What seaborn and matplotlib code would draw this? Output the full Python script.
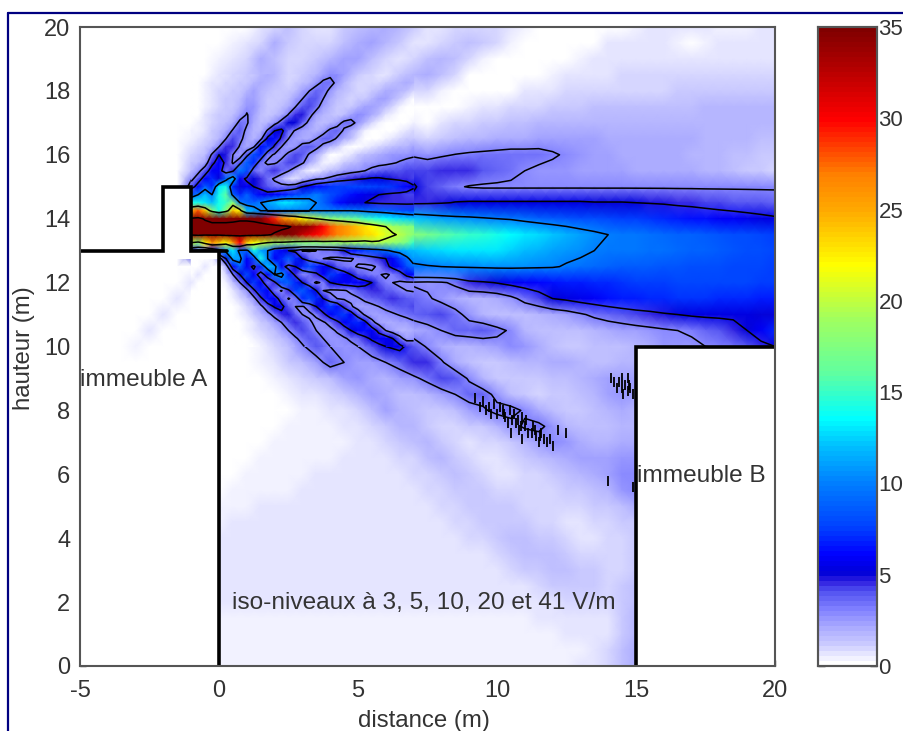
import numpy as np
import matplotlib
matplotlib.use("Agg")
import matplotlib.pyplot as plt
from matplotlib.colors import LinearSegmentedColormap
from matplotlib.lines import Line2D
from matplotlib.patches import Polygon
from matplotlib.transforms import Affine2D
import seaborn as sns

sns.set_style("white")
plt.rcParams['font.family'] = ['Liberation Sans', 'DejaVu Sans']

# champ, V/m, pas de 0.5 m
# colonnes: d = -1 -0.5 | 0..4.5 | 5..9.5 | 10..14.5 | 15..19.5 | 20
h20_0 = [0,0, 0,0,0,.7,.9,1.5,1,.8,.8,1.2, 1.5,1.8,2,1.7,1.2,.8,.8,.9,1,1, 1,.8,.3,0,0,0,0,0,0,0, .4,.7,.7,.7,.7,.7,.5,.3,.5,.7, .7]
h19_5 = [0,0, 0,.3,.8,1,2,1.2,.9,.9,1,1.6, 2,2.2,1.7,1.1,.8,.8,1,1.3,1.5,1.2, .9,.3,0,0,0,0,0,.2,.6,.8, .8,.8,.6,.3,.2,.3,.6,.8,.8,.8, .8]
h19_0 = [0,0, .5,.8,1,2,1.5,1,.9,1.2,1.8,2.4, 2.2,1.5,.9,.8,.9,1.4,1.9,1.5,1,.5, 0,0,0,0,0,.1,.5,.8,.8,.8, .8,.8,.8,.8,.7,.7,.8,.8,.8,.8, .8]
h18_5 = [0,.3, .7,1,1.8,2,1.2,1,1.4,2.4,3.2,2.2, 1.4,.9,.8,1.2,1.8,2,1.5,.9,.2,0, 0,0,0,.1,.4,.8,.8,.8,.8,.9, .9,.9,.9,.9,.9,.9,.9,.9,.9,1, 1]
h18_0 = [0,.4, .8,1.2,2.2,1.6,1.1,1.5,2.8,3.8,2.6,1.6, 1,1,1.5,2.1,1.9,1,.4,0,0,0, 0,.2,.6,.8,.8,.9,1,1,1,1, 1,1,1,1.1,1.1,1.1,1.1,1.1,1.2,1.2, 1.2]
h17_5 = [0,.5, 1,1.6,2.8,1.6,1.5,3,4.2,3,1.8,1.4, 1.7,2.3,2.2,1.4,.5,0,0,0,.3,.7, .8,.9,1,1,1.1,1.2,1.3,1.4,1.4,1.4, 1.5,1.5,1.6,1.6,1.6,1.7,1.7,1.7,1.7,1.7, 1.7]
h17_0 = [.2,.6, 1.2,2.5,3.4,1.7,2.8,4.8,3.4,2,1.9,3.4, 3,1.6,.5,0,0,.2,.7,.9,1,1.2, 1.3,1.5,1.6,1.7,1.7,1.7,1.8,1.8,1.8,1.8, 1.8,1.9,1.9,1.9,1.9,1.9,1.9,1.9,1.9,1.8, 1.8]
h16_5 = [.5,.9, 2,3.6,2.5,2.8,5.5,4,2.2,2.4,3.8,3.2, 1.7,.6,0,.3,.8,1,1.3,1.6,1.8,1.9, 2,2.1,2.1,2.2,2.2,2.2,2.2,2.2,2.1,2, 2,2,2,2,2,1.9,1.8,1.8,1.7,1.6, 1.5]
h16_0 = [.8,1.5, 3.8,3.2,2.5,6.5,4.5,2.5,3,4.2,3.2,1.8, .5,.3,.8,1.7,2.2,2.5,2.8,3.05,3.2,3.3, 3.4,3.5,3.5,3.5,3.2,2.8,2.6,2.4,2.2,2.1, 2.1,2.1,2.1,2,1.9,1.8,1.7,1.6,1.4,1.2, 1.1]
h15_5 = [2,3.5, 4.5,3.5,9,5.5,3.5,3.8,5,3.5,1.8,1.5, 2.8,3.2,3.6,3.9,4,4.2,4.4,4.4,4.4,4, 3.6,3.3,3,2.7,2.5,2.5,2.4,2.3,2.2,2.2, 2.1,2.1,2,2,2,1.9,1.7,1.5,1.3,1.1, 1]
h15_0 = [6,8, 6,12,7,5,5,5,5,5.5,6.5,7, 7.5,7.8,7.5,6.5,5.2,4.3,3.7,3.2,2.9,2.8, 2.8,2.8,2.8,2.8,2.8,2.8,2.8,2.8,2.8,2.8, 2.8,2.8,2.8,2.8,2.8,2.8,2.8,2.8,2.8,2.8, 2.8]
h14_5 = [12,14, 9,14,8,10,12,13,13,11,9,6, 5.4,4.8,4.6,4.5,4.5,4.6,4.8,5.1,5.2,5.2, 5.2,5.2,5.2,5.2,5.2,5.2,5.2,5.1,5.1,5.1, 5,4.9,4.8,4.6,4.5,4.3,4.2,4.1,4,3.9, 3.8]
h14_0 = [35,38, 30,24,35,32,28,25,22,20,18,17, 16,14.5,13.5,12.8,12.2,11.7,11.2,10.8,10.6,10.3, 10,9.8,9.4,9,8.7,8.4,8.2,8,7.8,7.6, 7.4,7.2,7,6.8,6.5,6.3,6,5.8,5.6,5.4, 5.2]
h13_5 = [45,45, 42,42,44,44,44,41.5,38,34,30,27, 25,22.5,20.7,19.3,18,17,16,15.5,15,14.5, 14,13.5,13,12.7,12.2,11.7,11,10.5,10,9.8, 9.6,9.4,9.2,9,8.8,8.6,8.4,8.2,8,7.8, 7.6]
h13_0 = [4,5, 8,18,12,11,9,6,4.5,4.5,5,6, 7,8,9.5,11,12,12.5,12.8,13,13,13, 13,12.5,12,11.5,11,10.7,10.4,10,9.8,9.7, 9.6,9.5,9.3,9.2,9,8.8,8.6,8.4,8.2,8, 7.8]
h12_5 = [0,0, 0,12,6,13,5,6,7.5,7,5.5,4.5, 3.5,4,5,7.5,9.5,9.8,10,10.2,10.3,10.4, 10.5,10.5,10.4,10.3,10.2,9.8,9.5,9.1,8.8,8.7, 8.6,8.5,8.4,8.3,8.2,8.1,8,7.9,7.8,7.7, 7.6]
h12_0 = [0,0, 0,5,9,6,10,9,6.5,3.5,6,6.5, 6,5.2,3.5,3,3,2.7,2.8,3.3,4.4,4.7, 5.1,5.5,5.8,6.1,6.4,6.6,6.8,7,7.1,7.3, 7.4,7.5,7.6,7.7,7.8,7.8,7.8,7.7,7.7,7.6, 7.5]
h11_5 = [0,0, 0,3,4,6.5,7,4.5,5,8,7,4, 3.5,4,4.5,4.6,4.5,3.2,2.6,2,1.8,1.8, 2,2.6,3.5,4.2,5,5.3,5.7,6,6.3,6.6, 6.8,7,7.1,7.2,7.2,7.2,7,7,6.9,6.8, 6.6]
h11_0 = [0,0, 0,.4,1,2,4,6,4.5,3.5,6,7.5, 6,3.5,2.5,3,3.6,4,4.2,3.5,2.5,1.8, 1.5,1.5,1.6,1.7,2,2.3,2.8,3.3,3.7,4, 4.3,4.5,4.8,5,5.2,5.3,5.3,5.3,5.2,5.1, 5]
h10_5 = [0,0, 0,.2,.7,1.2,2,3.5,5,4,3.2,3.8, 6,6.5,4,2.5,2,2.4,3,3.6,3.8,4, 3.4,2.8,1.8,1.5,1.4,1.5,1.6,1.8,2,2.2, 2.4,2.6,2.8,3,3.2,3.6,4,4.4,5,6, 7]
h10_0 = [0,0, 0,0,.4,.8,1.2,2,3.4,4.3,3.2,2.8, 3,3.6,5,5.4,4,2.8,2,1.7,1.8,2, 2.4,2.8,2.6,2,1.5,1.3,1.3,1.4,1.5,1.6, 1.8,2,2.5,2.5,2.7,3,3.2,3.5,4,4.5, 5]
h09_5 = [0,0, 0,0,0,.3,.7,1.1,1.5,2.4,3.6,3, 2.2,2.4,3,3.6,4.5,4.4,3.2,2,1.4,1.2, 1.3,1.5,1.7,1.9,2,2,1.8,1.6,1.5,1.7, 1.8] + [0]*10
h09_0 = [0,0, 0,0,0,0,.3,.7,.9,1.1,1.5,2.4, 2.6,2,1.8,2.2,2.7,3.4,4.2,4,2.8,1.8, 1.2,1.1,1.2,1.3,1.5,1.6,1.8,2,2.2,2.3, 2.2] + [0]*10
h08_5 = [0,0, 0,0,0,0,0,.3,.6,.8,.9,1.2, 1.9,2.4,2,1.5,1.4,1.8,2.4,3,3.8,3.6, 2.6,1.6,1.1,1,1.1,1.3,1.5,1.8,2.4,2.6, 2.4] + [0]*10
h08_0 = [0,0, 0,0,0,0,0,0,.3,.5,.7,.8, 1,1.5,2.2,1.9,1.4,1.1,1.3,1.6,2.2,2.8, 3.4,3.5,2.8,2,1.4,1.1,1.1,1.4,1.7,2, 1.8] + [0]*10
h07_5 = [0,0, 0,0,0,0,.2,.3,.35,.4,.4,.6, .7,.9,1.3,1.9,1.8,1.2,.9,.9,1.1,1.3, 1.8,2.5,3.2,3.3,2.6,1.8,1.4,1.4,1.6,1.8, 1.8] + [0]*10
h07_0 = [0,0, 0,0,0,.2,.3,.4,.4,.4,.5,.5, .6,.7,.9,1.1,1.6,1.8,1.2,.9,.8,.9, 1,1.3,1.8,2.4,2.9,2.6,2.1,1.9,1.9,2.1, 2] + [0]*10
h06_5 = [0,0, 0,0,.2,.3,.4,.45,.5,.5,.5,.6, .6,.7,.8,.9,1,1.4,1.7,1.2,.9,.8, .8,.9,1.1,1.4,1.8,2.1,2.2,2.3,2.4,2.7, 2.7] + [0]*10
h06_0 = [0,0, 0,.2,.35,.4,.45,.5,.5,.55,.6,.6, .6,.65,.7,.8,.9,1,1.2,1.4,1.2,.9, .8,.8,.9,1,1.2,1.5,1.8,2,2.4,2.8, 2.9] + [0]*10
h05_5 = [0,0, .1,.35,.4,.45,.5,.5,.55,.6,.6,.6, .6,.6,.65,.7,.8,.9,1,1.1,1.2,1.1, 1,.9,.9,.9,1,1.1,1.3,1.5,1.9,2.5, 2.9] + [0]*10
h05_0 = [0,0, .3,.5,.5,.55,.55,.6,.6,.6,.6,.65, .65,.65,.65,.7,.7,.8,.9,1,1.1,1.2, 1.2,1.1,1,.9,.9,.9,1,1.1,1.3,1.6, 2] + [0]*10
h04_5 = [0,0, .5,.55,.6,.6,.6,.6,.6,.65,.65,.7, .7,.7,.7,.7,.7,.75,.8,.9,1,1.1, 1.3,1.3,1.2,1,.9,.8,.8,.9,1,1.1, 1.3] + [0]*10
h04_0 = [0,0, .6,.6,.6,.6,.6,.65,.65,.65,.65,.7, .7,.7,.7,.7,.7,.7,.75,.8,.85,1, 1.2,1.4,1.4,1.3,1.1,.9,.8,.8,.9,1, 1.2] + [0]*10
h03_5 = [0,0, .65,.65,.65,.65,.65,.65,.65,.65,.65,.65, .65,.65,.65,.65,.65,.65,.65,.7,.7,.8, 1,1.2,1.4,1.5,1.4,1.2,1,.9,.9,1, 1.2] + [0]*10
h03_0 = [0,0, .6,.6,.6,.6,.6,.6,.6,.6,.6,.6, .6,.6,.6,.6,.6,.6,.6,.6,.6,.7, .8,1,1.1,1.3,1.4,1.4,1.2,1.1,.9,1, 1.3] + [0]*10
h02_5 = [0,0, .6,.6,.6,.6,.6,.6,.6,.6,.6,.6, .6,.6,.6,.6,.6,.6,.6,.6,.6,.6, .6,.7,.8,1,1.1,1.2,1.3,1.1,.9,1.1, 1.5] + [0]*10
h02_0 = [0,0, .55,.55,.55,.55,.55,.55,.55,.55,.55,.55, .55,.55,.55,.55,.55,.55,.55,.55,.55,.55, .55,.55,.6,.7,.8,.9,1,1,.9,1.2, 1.6] + [0]*10
h01_5 = [0,0, .5,.5,.5,.5,.5,.5,.5,.5,.5,.5, .5,.5,.5,.5,.5,.5,.5,.5,.5,.5, .5,.5,.5,.55,.6,.65,.7,.75,.8,1.2, 1.7] + [0]*10
h01_0 = [0,0, .5,.5,.5,.5,.5,.5,.5,.5,.5,.5, .5,.5,.5,.5,.5,.5,.5,.5,.5,.5, .45,.45,.45,.45,.5,.55,.6,.7,.8,1.3, 1.8] + [0]*10
h00_5 = [0,0, .45,.45,.45,.45,.45,.45,.45,.45,.45,.45, .45,.45,.45,.45,.45,.45,.45,.45,.35,.35, .35,.3,.3,.3,.3,.4,.5,.7,.9,1.4, 2] + [0]*10
h00_0 = [0,0, .4,.4,.4,.4,.4,.4,.4,.4,.4,.4, .4,.4,.4,.4,.4,.4,.4,.4,.35,.3, .3,.3,.3,.3,.3,.4,.6,.8,1,1.6, 2] + [0]*10

# zone des lobes, lue plus finement, pas de 0.25 m, de h = 18.5 a 10
# colonnes: d = -1.. | 0.. | 1.. | 2.. | 3.. | 4.. | 5.. | 6.. | 7
f18_50 = [0,0,.2,.5, .7,.8,.9,1, 1.1,1.3,1.7,2, 1.8,1.3,1,1, 1.2,1.5,1.9,2.4, 2.8,2.9,2.4,1.8, 1.3,1,.9,.8, .8,1,1.2,1.5, 1.8]
f18_25 = [0,0,.3,.6, .8,.9,1,1.1, 1.3,1.7,2.1,1.9, 1.4,1.1,1,1.1, 1.4,1.9,2.6,3.3, 3.4,2.7,1.9,1.3, 1,.9,.9,1, 1.3,1.6,1.9,2.1, 1.9]
f18_00 = [0,0,.4,.7, .9,1,1.1,1.3, 1.7,2.2,1.9,1.5, 1.2,1.1,1.2,1.6, 2.2,3,3.7,3.5, 2.7,1.9,1.4,1.1, 1,1,1.2,1.6, 2.1,2.1,1.8,1.4, 1]
f17_75 = [0,.1,.5,.8, 1,1.1,1.2,1.6, 2.4,2.3,1.7,1.3, 1.1,1.2,1.6,2.2, 3,3.9,3.9,3, 2.1,1.5,1.2,1, 1.1,1.3,1.7,2.2, 2.2,1.8,1.2,.6, .2]
f17_50 = [0,.2,.5,.8, 1,1.1,1.3,1.9, 2.7,2.5,1.7,1.2, 1.1,1.4,2.1,3, 4,4.3,3.4,2.4, 1.7,1.3,1.2,1.3, 1.7,2.2,2.4,2, 1.4,.9,.4,.1, 0]
f17_25 = [0,.2,.6,.9, 1.1,1.2,1.6,2.3, 3.1,2.4,1.5,1.3, 1.4,2,3.1,4.5, 4.7,3.4,2.4,1.7, 1.4,1.3,1.6,2.3, 3,2.7,2,1.4, .8,.3,.1,0, 0]
f17_00 = [.2,.4,.7,1, 1.2,1.5,2.1,3.4, 3.2,2,1.6,1.7, 2.5,3.6,5,5, 3.7,2.6,1.9,1.6, 1.7,2.4,3.4,3.5, 2.6,1.8,1,.4, .1,0,0,.2, .5]
f16_75 = [.3,.5,.8,1.1, 1.4,2,3.2,3.9, 2.6,1.8,1.9,3.2, 5,5.4,3.8,2.8, 2.2,2,1.9,2.4, 3.4,3.7,2.8,2, 1.2,.5,.1,0, 0,.2,.5,.8, .9]
f16_50 = [.5,.7,.9,1.3, 1.9,3,4.3,3.5, 2.2,1.8,2.6,5.5, 6.5,4.6,3,2.4, 2.1,2,3,3.8, 3.6,2.8,2,1.4, .7,.1,0,.2, .5,.8,1,1.2, 1.3]
f16_25 = [.7,.9,1.2,1.7, 3,4.5,4.4,2.8, 2.1,2.8,6.5,7.2, 4.6,3,2.3,2.6, 3.6,4,3.4,2.5, 1.8,1.1,.4,0, .1,.4,.7,1, 1.3,1.5,1.7,1.9, 2.2]
f16_00 = [.9,1.1,1.6,3.2, 5,4.8,3,2.3, 4,8,7,3.5, 2.8,2.6,3.3,4.2, 3.9,2.8,2,1, .2,.2,.5,.8, 1.2,1.5,1.7,2, 2.2,2.5,2.6,2.7, 2.8]
f15_75 = [1.1,1.4,2.2,4.5, 6,4.6,2.8,4, 9,7,3.5,2.7, 2.8,3.4,4.3,4.2, 3.2,2.1,1.1,.3, .3,.7,1.1,1.5, 1.9,2.2,2.4,2.6, 2.7,2.9,3.1,3.3, 3.5]
f15_50 = [1.6,2.5,4,6, 6,3.5,4.5,10, 8,3.6,3,4, 4.6,3.8,3.1,2, 1,.3,.5,1, 1.5,1.9,2.2,2.5, 2.7,3,3.4,3.7, 3.9,4,4.1,4.2, 4.3]
f15_25 = [2.5,4,6,7, 5,9,12,6, 4.5,5,4.5,3.5, 2.8,2,1,.6, 1.5,2.2,2.8,3, 3.4,3.9,4.2,4.5, 4.8,5,5.2,5.2, 5,4.8,4.6,4.4, 4.2]
f15_00 = [4,6,9,7, 13,14,7,5, 6,5,4.5,4, 3.5,3.5,3.6,4, 5,5.6,6.3,6.8, 7.2,7.5,7.6,7.8, 7.8,7.9,7.8,7.6, 7.5,7.2,6.8,6.2, 5.2]
f14_75 = [8,10,12,10, 14,16,9,7, 9,7,6,5.5, 6,6.5,7,7.5, 8,9,10,9, 8,7.5,7,6.5, 6,5.6,5.2,5, 4.7,4.5,4.4,4.3, 4.3]
f14_50 = [14,14,13,12, 14,15,18,10, 9,9,10,11, 12,13,13,12.5, 12,11,10,9, 7.5,6.5,6,5.4, 5.2,5,4.8,4.6, 4.5,4.5,4.4,4.4, 4.5]
f14_25 = [25,28,24,18, 14,18,24,22, 12,11,10,10, 10,10,10,10, 10,10,10,10, 10,10,10,10, 9.8,9.5,9.2,9, 8.8,8.5,8.2,7.8, 7.6]
f14_00 = [42,43,40,38, 38,38,38,39, 39,38,35,32, 29,27,25,24, 22,21,20,19, 18,17.5,17,16.5, 16,15,14.5,14, 13.5,13,12.8,12.5, 12.2]
f13_75 = [45,46,45,44, 44,44,45,46, 46,46,46,45, 44,43,42,39, 37,34,32,30, 28,27,26,25, 24,23,22,21, 20,19,18.5,18, 17.5]
f13_50 = [42,43,42,42, 42,43,43,43, 43,43,43,42, 40,38,36,34, 32,31,30,29, 28,27,26,25, 24.5,23.5,23,22, 21,20.3,19.7,19, 18]
f13_25 = [20,18,22,26, 24,22,26,30, 24,22,21,20, 19,19,18.5,18, 18,18,18,18.5, 18.5,18.5,19,19, 19,19,19.5,19.5, 19,18.5,18,17, 15]
f13_00 = [5,4,3,5, 8,11,13,9, 9,14,11,10, 7,6,5,4.5, 2.9,2.9,3,3.3, 3.5,4,5,6.5, 7,7.5,8,8.5, 9.5,10.5,11,11.5, 12]
f12_75 = [0,0,0,.5, 2,5,11,11, 6,8,14,10, 6,7,9,7, 5,3.8,3.2,3, 2.9,2.8,2.8,2.9, 3.2,3.5,4,4.5, 5,6,7.5,9.5, 11]
f12_50 = [0,0,.7,0, 0,2,6,9, 6,4.5,7,12, 11,6,4,5, 7,8,7,6, 5,4,3.5,3.2, 2.9,2.8,2.8,3.2, 4.5,5.5,6.5,8, 9.5]
f12_25 = [0,.7,0,0, 0,1,3,5, 8,6,4,6, 10,11,7,4.5, 3,3.5,4.5,6, 7.5,7,6,5, 4,3.6,3.2,3.1, 2.8,3.2,4,5.5, 6.5]
f12_00 = [.7,0,0,0, 0,.5,1.5,3, 5,7.5,6,3.5, 4.5,8,9,7, 5,3.6,2.8,3.2, 5,5.5,6,6.2, 6,5.5,5,4, 3.2,3,2.8,2.8, 2.8]
f11_75 = [0,0,0,0, 0,.2,.8,1.5, 2.5,4.5,7,6, 3.5,2.9,4.5,7.5, 8.5,7,5,3, 2.8,2.8,2.9,3.2, 4,4.3,4.5,4.4, 4,3.6,3.2,3, 2.9]
f11_50 = [0,0,0,0, 0,0,.3,1, 1.6,2.5,4.5,6.5, 6,4,2.9,3.5, 7,8,7,5, 3.5,3,2.8,2.7, 2.8,3.4,3.8,4.1, 4.3,4.4,4.3,4, 3.6]
f11_25 = [0,0,0,0, 0,0,.2,.5, 1,1.6,2.6,4, 5.2,5.5,4,3, 2.9,3.4,5,6.5, 7.5,6.5,4.5,3.2, 2.4,2.3,2.6,3, 3.4,3.7,3.9,4.1, 4.2]
f11_00 = [0,0,0,0, 0,0,0,.3, .8,1.1,1.7,2.5, 3.5,4.5,4.8,3.8, 3,2.8,3.2,4.5, 6,7,7.5,6, 4,2.8,2.2,2.2, 2.5,2.8,3.1,3.4, 3.6]
f10_75 = [0,0,0,0, 0,0,0,.1, .5,.8,1.1,1.6, 2.2,3,4,4.5, 4,3.2,2.7,2.8, 3.5,4.5,5.8,6.8, 7,5.5,3.5,2.4, 2,2,2.2,2.4, 2.8]
f10_50 = [0,0,0,0, 0,0,0,0, .4,.6,.9,1.2, 1.6,2.2,3,3.8, 4.3,3.8,3,2.6, 2.6,3.2,4,5, 6,6.5,6,4.5, 3,2.2,1.9,1.9, 2]
f10_25 = [0,0,0,0, 0,0,0,0, .2,.4,.7,.9, 1.1,1.5,2.1,2.8, 3.5,4,3.6,3, 2.5,2.5,2.8,3.3, 3.8,4.5,5.3,6, 6,5,3.5,2.4, 2.6]
f10_00 = [0,0,0,0, 0,0,0,0, 0,.2,.4,.6, .9,1.2,1.5,2.1, 2.8,3.5,3.9,3.6, 3,2.6,2.5,2.6, 3,3.5,4,4.5, 5,5.5,5.5,4.5, 4]

# trace faible dans l'immeuble A
diag_d = [-0.5, -1, -1.5, -2, -2.5, -3]
diag_h = [12.5, 12, 11.5, 11, 10.5, 10]
diag_v = [0.7, 0.7, 0.7, 0.7, 0.6, 0.5]

# bruit noir des iso-niveaux
noise_d = [9.2,9.5,9.7,9.9,10,10.2,10.3,10.4,10.6,10.7,10.8,10.9,11,11.1,11.3,11.4,11.5,11.6,11.8,12,12.5,12.2,10.5,10.9,
           9.4,9.6,9.8,10.1,10.25,10.45,10.55,10.75,10.85,11.05,11.25,11.35,11.55,11.7,11.9,
           14.1,14.2,14.4,14.5,14.6,14.7,14.8,14.9,14.5,14.7,14,14.9,14.3,14.55,14.75]
noise_h = [8.4,8.3,8.1,8.2,7.9,8,7.8,7.6,7.9,7.6,7.4,7.8,7.5,7.3,7.5,7.2,7,7.3,7,6.9,7.3,7.4,7.3,7.1,
           8.1,8,7.9,8.1,7.9,8,7.7,7.7,7.5,7.7,7.3,7.4,7.2,7.1,7.1,
           9,8.9,8.9,8.7,8.8,8.6,8.7,8.5,9,9,5.8,5.6,8.7,8.5,8.8]

levels = [3, 5, 10, 20, 41]
x_ticks = [-5, 0, 5, 10, 15, 20]
y_ticks = [0, 2, 4, 6, 8, 10, 12, 14, 16, 18, 20]
cbar_ticks = [0, 5, 10, 15, 20, 25, 30, 35]

cmap_vals = [0, 0.7, 1, 2, 3, 4, 4.5, 5, 6, 7.5, 10, 12, 13.5, 16, 19, 22, 25, 27, 30, 33, 35]
cmap_cols = ['#ffffff', '#dedeff', '#ccccff', '#aaaaff', '#8080ff', '#5050f0', '#3020e0', '#0000d8', '#0000ff',
             '#0040ff', '#0080ff', '#00c0ff', '#00ffff', '#60ffa0', '#a0ff60', '#ffff00', '#ffaa00', '#ff8000',
             '#ff0000', '#b00000', '#800000']
jet_white = LinearSegmentedColormap.from_list('jet_white', [(v / 35, c) for v, c in zip(cmap_vals, cmap_cols)], N=128)

rows = [h20_0, h19_5, h19_0, h18_5, h18_0, h17_5, h17_0, h16_5, h16_0, h15_5, h15_0, h14_5, h14_0, h13_5, h13_0,
        h12_5, h12_0, h11_5, h11_0, h10_5, h10_0, h09_5, h09_0, h08_5, h08_0, h07_5, h07_0, h06_5, h06_0, h05_5,
        h05_0, h04_5, h04_0, h03_5, h03_0, h02_5, h02_0, h01_5, h01_0, h00_5, h00_0]
fine_rows = [f18_50, f18_25, f18_00, f17_75, f17_50, f17_25, f17_00, f16_75, f16_50, f16_25, f16_00, f15_75, f15_50,
             f15_25, f15_00, f14_75, f14_50, f14_25, f14_00, f13_75, f13_50, f13_25, f13_00, f12_75, f12_50, f12_25,
             f12_00, f11_75, f11_50, f11_25, f11_00, f10_75, f10_50, f10_25, f10_00]
for i, r in enumerate(rows):
    assert len(r) == 43, (i, len(r))
for i, r in enumerate(fine_rows):
    assert len(r) == 33, (i, len(r))

field = np.zeros((41, 51))
field[:, 8:] = np.array(rows)
fine = np.array(fine_rows, dtype=float)
# memes valeurs aux noeuds communs
field[3:21, 8:25] = fine[::2, ::2]


# metres -> indices de la grille
def col(d):
    return (np.asarray(d, dtype=float) + 5) * 2


def lig(h):
    return (20 - np.asarray(h, dtype=float)) * 2


for d, h, v in zip(diag_d, diag_h, diag_v):
    field[int(lig(h)), int(col(d))] = v

fig = plt.figure(figsize=(9.04, 7.31), dpi=100)
ax = fig.add_axes([80 / 904, 65 / 731, 695 / 904, 639 / 731])
cax = fig.add_axes([818 / 904, 65 / 731, 59 / 904, 639 / 731])

sns.heatmap(field, ax=ax, cbar_ax=cax, cmap=jet_white, vmin=0, vmax=35, shading='gouraud',
            xticklabels=False, yticklabels=False, zorder=1)
ax.contour(field, levels=levels, colors='k', linewidths=1.1, zorder=1.5)

# zone fine par dessus, recalee en metres
sns.heatmap(fine, ax=ax, cbar=False, cmap=jet_white, vmin=0, vmax=35, shading='gouraud',
            xticklabels=False, yticklabels=False, zorder=1.8)
ax.collections[-1].set_transform(Affine2D().scale(0.5).translate(col(-1), lig(18.5)) + ax.transData)
fine_x = col(-1) + np.arange(33) * 0.5
fine_y = lig(18.5) + np.arange(35) * 0.5
ax.contour(fine_x, fine_y, fine, levels=levels, colors='k', linewidths=1.1, zorder=2)

sns.scatterplot(x=col(noise_d), y=lig(noise_h), ax=ax, color='k', marker='|', s=55, linewidth=1.3, legend=False, zorder=2.2)

# immeubles
white_parts = [[(-5, 0), (-5, 9.5), (0, 9.5), (0, 0)],
               [(-2, 12.75), (-2, 15), (-1, 15), (-1, 13), (0, 13), (0, 12.75)],
               [(15, 0), (15, 10), (20, 10), (20, 0)]]
for part in white_parts:
    ax.add_patch(Polygon([(col(d), lig(h)) for d, h in part], closed=True, fc='white', ec='none', zorder=3))
ax.plot(col([-5, -2, -2, -1, -1, 0.3]), lig([13, 13, 15, 15, 13, 13]), color='k', lw=2.6, zorder=4, solid_joinstyle='miter')
ax.plot(col([0, 0]), lig([13, 0]), color='k', lw=2.6, zorder=4)
ax.plot(col([15, 15, 20]), lig([0, 10, 10]), color='k', lw=2.6, zorder=4, solid_joinstyle='miter')

ax.set_xlim(0, 50)
ax.set_ylim(40, 0)
ax.set_xticks(col(x_ticks))
ax.set_xticklabels([str(v) for v in x_ticks])
ax.set_yticks(lig(y_ticks))
ax.set_yticklabels([str(v) for v in y_ticks], rotation=0)
ax.tick_params(direction='in', length=4, width=1, color='#444444', labelsize=17, labelcolor='#333333',
               bottom=True, left=True)
ax.tick_params(axis='x', pad=10)
ax.tick_params(axis='y', pad=7)
for s in ax.spines.values():
    s.set_visible(True)
    s.set_color('#555555')
    s.set_linewidth(1.5)
    s.set_zorder(6)

fig.text(424 / 904, 1 - 721 / 731, 'distance (m)', fontsize=17.3, color='#333333', ha='center', va='center')
fig.text(24 / 904, 1 - 348 / 731, 'hauteur (m)', fontsize=17.3, color='#333333', ha='center', va='center', rotation=90)

txt = dict(fontsize=17.6, color='#333333', va='center', zorder=5)
ax.text(col(-5), lig(8.95), 'immeuble A', ha='left', **txt)
ax.text(col(15.05), lig(5.95), 'immeuble B', ha='left', **txt)
ax.text(col(0.45), lig(1.97), 'iso-niveaux à 3, 5, 10, 20 et 41 V/m', ha='left', **txt)

cax.set_yticks(cbar_ticks)
cax.tick_params(axis='y', direction='in', length=5, width=1, color='#222222', left=True, right=True,
                labelsize=16, labelcolor='#333333', pad=1)
for s in cax.spines.values():
    s.set_visible(True)
    s.set_color('#555555')
    s.set_linewidth(1.5)

# cadre bleu de la capture
fig.add_artist(Line2D([8 / 904, 8 / 904], [0, 718 / 731], color='#000080', lw=1.6))
fig.add_artist(Line2D([8 / 904, 1], [718 / 731, 718 / 731], color='#000080', lw=1.6))

fig.savefig('out.png', dpi=100)
